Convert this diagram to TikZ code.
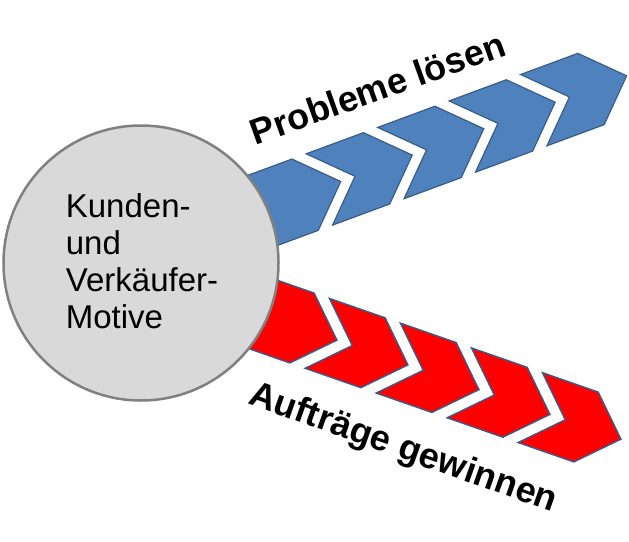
\documentclass[tikz,border=0pt]{standalone}
\usepackage{fontspec}
\setmainfont{Liberation Sans}
\usepackage{xcolor}
\definecolor{chevronblue}{HTML}{4F81BD}
\definecolor{chevronline}{HTML}{385D8A}
\definecolor{motivgray}{HTML}{D9D9D9}
\definecolor{motivline}{HTML}{808080}

\begin{document}
\begin{tikzpicture}[x=1pt,y=-1pt]
		\tikzstyle{every node}+=[inner sep=0pt]
		\tikzstyle{bluechevron}=[fill=chevronblue, draw=chevronline, line width=1.2pt]
		\tikzstyle{redchevron}=[fill=red, draw=chevronline, line width=1.4pt]
		\tikzstyle{bandtext}=[font=\fontsize{36}{40}\selectfont\bfseries, anchor=base]
		\useasboundingbox (0,0) rectangle (629,541);
		\draw [bluechevron, shift={(305.1,194.7)}, rotate=20.3] (-61,-38) -- (0,-38) -- (38,0) -- (0,38) -- (-61,38) -- cycle;
		\draw [bluechevron, shift={(376.6,168.3)}, rotate=20.3] (-61,-38) -- (0,-38) -- (38,0) -- (0,38) -- (-61,38) -- (-23,0) -- cycle;
		\draw [bluechevron, shift={(448.1,141.9)}, rotate=20.3] (-61,-38) -- (0,-38) -- (38,0) -- (0,38) -- (-61,38) -- (-23,0) -- cycle;
		\draw [bluechevron, shift={(519.5,115.4)}, rotate=20.3] (-61,-38) -- (0,-38) -- (38,0) -- (0,38) -- (-61,38) -- (-23,0) -- cycle;
		\draw [bluechevron, shift={(591,89)}, rotate=20.3] (-61,-38) -- (0,-38) -- (38,0) -- (0,38) -- (-61,38) -- (-23,0) -- cycle;
		\draw [redchevron, shift={(302,328)}, rotate=-19.2] (-59,-37) -- (0,-37) -- (37,0) -- (0,37) -- (-59,37) -- cycle;
		\draw [redchevron, shift={(373,352.75)}, rotate=-19.2] (-59,-37) -- (0,-37) -- (37,0) -- (0,37) -- (-59,37) -- (-22,0) -- cycle;
		\draw [redchevron, shift={(444,377.5)}, rotate=-19.2] (-59,-37) -- (0,-37) -- (37,0) -- (0,37) -- (-59,37) -- (-22,0) -- cycle;
		\draw [redchevron, shift={(515,402.25)}, rotate=-19.2] (-59,-37) -- (0,-37) -- (37,0) -- (0,37) -- (-59,37) -- (-22,0) -- cycle;
		\draw [redchevron, shift={(586,427)}, rotate=-19.2] (-59,-37) -- (0,-37) -- (37,0) -- (0,37) -- (-59,37) -- (-22,0) -- cycle;
		\node [circle, minimum size=275pt, fill=motivgray, draw=motivline, line width=2.5pt] (kreis) at (141,263) {};
		\node [align=left, font=\fontsize{33}{37}\selectfont] (motive) at (142,261) {Kunden-\\und\\Verkäufer-\\Motive};
		\node [bandtext, rotate=19.7] (probleme) at (381.7,100) {Probleme lösen};
		\node [bandtext, rotate=-19.5] (auftraege) at (400,458) {Aufträge gewinnen};
\end{tikzpicture}
\end{document}
